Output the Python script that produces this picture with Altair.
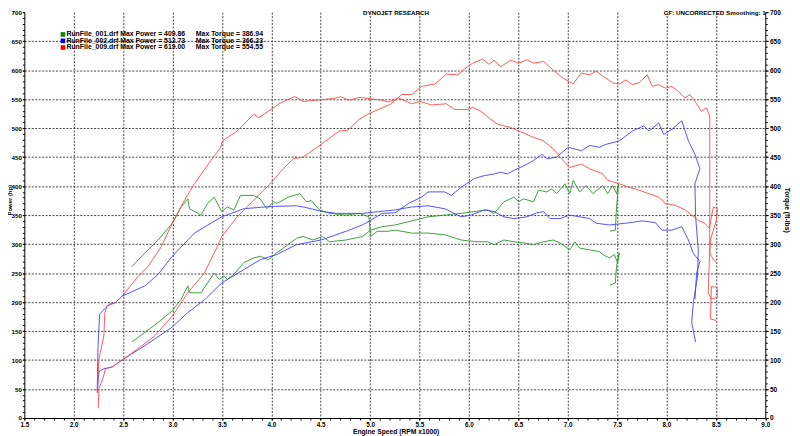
import altair as alt
import pandas as pd

# ---------------- data (RPM x1000, hp / ft-lbs) ----------------
runs = ["001", "002", "009"]
run_colors = ["#2a962a", "#4040ff", "#ff4848"]
legend_colors = ["#128012", "#0000ff", "#ff0000"]
legend_files = ["RunFile_001.drf", "RunFile_002.drf", "RunFile_009.drf"]
max_power = [409.86, 512.73, 619.00]
max_torque = [386.94, 366.23, 554.55]

g_tq_rpm = [2.588, 2.722, 2.855, 2.998, 3.088, 3.155, 3.172, 3.288, 3.355, 3.422, 3.498, 3.555, 3.622, 3.688,
            3.822, 3.888, 3.955, 4.022, 4.055, 4.172, 4.288, 4.355, 4.405, 4.488, 4.588, 4.755, 4.888, 4.988,
            5.005, 5.072, 5.172, 5.255, 5.422, 5.588, 5.755, 5.922, 6.088, 6.188, 6.255, 6.355, 6.455, 6.555,
            6.655, 6.755, 6.855, 6.922, 7.022, 7.072, 7.122, 7.222, 7.322, 7.355, 7.422, 7.472, 7.505, 7.522,
            7.495, 7.482, 7.428]
g_tq_val = [261, 285, 307, 336, 364, 378, 361, 350, 370, 381, 356, 364, 359, 384,
            384, 378, 361, 373, 370, 381, 387, 373, 375, 359, 353, 350, 353, 347,
            313, 322, 322, 324, 319, 319, 316, 307, 304, 304, 299, 307, 304, 302,
            299, 304, 307, 302, 290, 304, 293, 290, 287, 282, 276, 282, 268, 285,
            262, 233, 229]

g_hp_rpm = [2.588, 2.722, 2.855, 2.998, 3.088, 3.155, 3.172, 3.288, 3.355, 3.422, 3.472, 3.522, 3.555, 3.622,
            3.722, 3.822, 3.888, 3.972, 4.055, 4.122, 4.255, 4.322, 4.422, 4.522, 4.588, 4.755, 4.922, 5.005,
            5.122, 5.255, 5.588, 5.755, 5.922, 6.188, 6.255, 6.355, 6.455, 6.505, 6.555, 6.655, 6.705, 6.788,
            6.838, 6.888, 6.972, 7.022, 7.055, 7.122, 7.188, 7.255, 7.355, 7.405, 7.455, 7.495, 7.515, 7.495,
            7.482, 7.428]
g_hp_val = [131, 148, 165, 185, 205, 228, 216, 216, 233, 250, 239, 245, 239, 248,
            268, 276, 279, 273, 285, 293, 310, 313, 307, 313, 304, 307, 313, 324,
            330, 333, 347, 350, 353, 359, 353, 373, 381, 373, 378, 373, 393, 390,
            395, 387, 404, 387, 409.86, 390, 401, 387, 401, 387, 401, 387, 404, 364,
            324, 322]

b_tq_rpm = [2.238, 2.245, 2.262, 2.355, 2.422, 2.488, 2.722, 2.855, 2.998, 3.222, 3.498, 3.722, 4.005, 4.255,
            4.322, 4.522, 4.655, 4.922, 5.255, 5.422, 5.588, 5.755, 5.922, 6.022, 6.155, 6.255, 6.355, 6.455,
            6.588, 6.688, 6.755, 6.822, 6.922, 7.022, 7.122, 7.222, 7.288, 7.422, 7.588, 7.755, 7.888, 7.955,
            8.055, 8.155, 8.222, 8.272, 8.338, 8.305, 8.288]
b_tq_val = [46, 120, 179, 196, 199, 210, 228, 248, 279, 319, 347, 361, 365, 366,
            364, 356, 353, 353, 359, 364, 366, 361, 347, 350, 359, 356, 347, 344,
            347, 354, 356, 344, 344, 350, 347, 344, 336, 333, 336, 340, 337, 324,
            324, 330, 307, 284, 270, 250, 205]

b_hp_rpm = [2.238, 2.255, 2.305, 2.388, 2.488, 2.722, 2.998, 3.155, 3.332, 3.498, 3.722, 3.888, 4.055, 4.255,
            4.505, 4.755, 4.922, 5.005, 5.122, 5.255, 5.388, 5.522, 5.588, 5.755, 5.822, 5.922, 6.055, 6.155,
            6.255, 6.322, 6.388, 6.455, 6.555, 6.655, 6.738, 6.788, 6.888, 7.005, 7.138, 7.222, 7.322, 7.388,
            7.522, 7.655, 7.772, 7.822, 7.922, 7.972, 8.055, 8.155, 8.222, 8.288, 8.338, 8.288, 8.295, 8.322,
            8.315, 8.272, 8.255, 8.295]
b_hp_val = [43, 80, 85, 88, 100, 125, 157, 182, 205, 233, 256, 273, 282, 299,
            307, 322, 333, 341, 353, 354, 370, 381, 390, 390, 384, 398, 413, 418,
            421, 424, 421, 427, 435, 444, 455, 447, 450, 467, 461, 470, 467, 472,
            478, 495, 504, 495, 509, 489, 498, 512.73, 478, 455, 430, 404, 347, 290,
            245, 199, 165, 131]

r_tq_rpm = [2.238, 2.255, 2.305, 2.315, 2.338, 2.422, 2.488, 2.655, 2.755, 2.888, 2.998, 3.122, 3.222, 3.388,
            3.488, 3.505, 3.655, 3.822, 3.872, 4.022, 4.088, 4.238, 4.322, 4.505, 4.622, 4.705, 4.788, 4.888,
            4.988, 5.122, 5.188, 5.288, 5.422, 5.505, 5.622, 5.772, 5.855, 5.988, 6.038, 6.122, 6.222, 6.288,
            6.422, 6.522, 6.655, 6.755, 6.855, 6.922, 7.022, 7.138, 7.222, 7.355, 7.405, 7.522, 7.622, 7.722,
            7.822, 7.922, 7.988, 8.088, 8.188, 8.255, 8.322, 8.388, 8.435, 8.455, 8.475, 8.515, 8.505, 8.445,
            8.438, 8.475, 8.505]
r_tq_val = [46, 102, 142, 182, 193, 199, 210, 245, 262, 296, 336, 376, 404, 444,
            467, 478, 495, 524, 518, 535, 543, 554.55, 546, 549, 551, 554, 548, 553,
            551, 548, 545, 552, 542, 546, 540, 542, 532, 532, 536, 529, 515, 507,
            501, 494, 484, 478, 464, 450, 432, 438, 430, 421, 410, 404, 398, 393,
            387, 381, 370, 367, 359, 350, 341, 336, 327, 347, 364, 361, 341, 307,
            285, 273, 268]

r_hp_rpm = [2.248, 2.255, 2.295, 2.322, 2.388, 2.488, 2.655, 2.822, 2.998, 3.155, 3.322, 3.455, 3.498, 3.655,
            3.822, 4.005, 4.088, 4.222, 4.322, 4.505, 4.688, 4.772, 4.888, 4.988, 5.122, 5.205, 5.322, 5.422,
            5.522, 5.655, 5.772, 5.888, 5.955, 6.038, 6.138, 6.205, 6.255, 6.322, 6.422, 6.505, 6.588, 6.655,
            6.755, 6.855, 6.955, 7.055, 7.138, 7.222, 7.288, 7.388, 7.455, 7.522, 7.588, 7.655, 7.722, 7.805,
            7.855, 7.922, 7.988, 8.055, 8.122, 8.188, 8.238, 8.288, 8.355, 8.405, 8.438, 8.438, 8.438, 8.422,
            8.455, 8.515, 8.515, 8.455, 8.445, 8.505]
r_hp_val = [17, 51, 68, 85, 88, 100, 120, 142, 176, 216, 250, 296, 313, 347,
            376, 407, 424, 447, 450, 472, 495, 496, 515, 525, 535, 541, 558, 558,
            572, 576, 593, 592, 602, 612, 619.0, 610, 617, 606, 617, 612, 618, 612,
            615, 600, 586, 576, 595, 592, 598, 586, 578, 576, 583, 575, 578, 592,
            572, 575, 569, 572, 563, 552, 558, 546, 529, 535, 521, 404, 290, 216,
            205, 208, 225, 227, 171, 168]

curves = [
    ("001", "Torque", g_tq_rpm, g_tq_val),
    ("001", "Power", g_hp_rpm, g_hp_val),
    ("002", "Torque", b_tq_rpm, b_tq_val),
    ("002", "Power", b_hp_rpm, b_hp_val),
    ("009", "Torque", r_tq_rpm, r_tq_val),
    ("009", "Power", r_hp_rpm, r_hp_val),
]
rows = []
for run, kind, rr, vv in curves:
    for i, (r, v) in enumerate(zip(rr, vv)):
        rows.append({"run": run, "curve": f"{run} {kind}", "idx": i, "rpm": r, "value": v})
df = pd.DataFrame(rows)

major_x = [round(1.5 + 0.5 * i, 1) for i in range(16)]
grid_x = [round(2.0 + 0.5 * i, 1) for i in range(14)]
minor_x = [round(1.5 + 0.1 * i, 1) for i in range(76)]
major_y = list(range(0, 701, 50))
grid_y = list(range(50, 651, 50))
minor_y = list(range(0, 701, 10))

FONT = "Liberation Sans"
W, H = 748.5, 410

xscale = alt.Scale(domain=[1.5, 9.0], nice=False, zero=False)
yscale = alt.Scale(domain=[0, 700], nice=False)

lab = dict(labelFont=FONT, labelFontWeight="bold", labelColor="black",
           labelFlush=False, labelOverlap=False, domainColor="black", tickColor="black", title=None,
           grid=False)

lines = alt.Chart(df).mark_line(strokeWidth=1, opacity=0.9).encode(
    x=alt.X("rpm:Q", scale=xscale, axis=alt.Axis(values=major_x, format=".1f", orient="bottom",
            tickSize=2, labelPadding=1.3, labelFontSize=6.4, **lab)),
    y=alt.Y("value:Q", scale=yscale, axis=alt.Axis(values=major_y, format="d", orient="left",
            tickSize=2, labelPadding=1.0, labelFontSize=6.3, **lab)),
    color=alt.Color("run:N", scale=alt.Scale(domain=runs, range=run_colors), legend=None),
    detail="curve:N",
    order="idx:Q",
)

anchor = pd.DataFrame({"rpm": [1.5], "value": [0]})
gridlayer = alt.Chart(anchor).mark_point(opacity=0).encode(
    x=alt.X("rpm:Q", scale=xscale, axis=alt.Axis(values=grid_x, orient="bottom", labels=False, ticks=False,
            domain=False, grid=True, gridDash=[2, 1.5], gridColor="#444", gridWidth=1, title=None)),
    y=alt.Y("value:Q", scale=yscale, axis=alt.Axis(values=grid_y, orient="left", labels=False, ticks=False,
            domain=False, grid=True, gridDash=[2, 1.5], gridColor="#444", gridWidth=1, title=None)),
)
right_axis = alt.Chart(anchor).mark_point(opacity=0).encode(
    x=alt.X("rpm:Q", scale=xscale, axis=None),
    y=alt.Y("value:Q", scale=yscale, axis=alt.Axis(values=major_y, format="d", orient="right",
            tickSize=3, labelPadding=1.2, labelFontSize=6.6, **lab)),
)
minor_left = alt.Chart(anchor).mark_point(opacity=0).encode(
    x=alt.X("rpm:Q", scale=xscale, axis=alt.Axis(values=minor_x, orient="bottom", labels=False,
            grid=False, tickSize=2, domain=False, tickColor="black", title=None)),
    y=alt.Y("value:Q", scale=yscale, axis=alt.Axis(values=minor_y, orient="left", labels=False,
            grid=False, tickSize=2, domain=False, tickColor="black", title=None)),
)
minor_right = alt.Chart(anchor).mark_point(opacity=0).encode(
    x=alt.X("rpm:Q", scale=xscale, axis=None),
    y=alt.Y("value:Q", scale=yscale, axis=alt.Axis(values=minor_y, orient="right", labels=False,
            grid=False, tickSize=2, domain=False, tickColor="black", title=None)),
)

def txt(s, x, y, size=7, align="center", angle=0):
    return alt.Chart(pd.DataFrame({"t": [s]})).mark_text(
        font=FONT, fontSize=size, fontWeight="bold", color="black", align=align,
        baseline="middle", angle=angle).encode(x=alt.value(x), y=alt.value(y), text="t:N")

texts = [
    txt("DYNOJET RESEARCH", 375.5, 1.2, size=6.3),
    txt("CF: UNCORRECTED  Smoothing: 1", 749.0, 1.2, size=6.3, align="right"),
    txt("Engine Speed (RPM x1000)", 375.5, 424.5, size=6.8),
    txt("Power (hp)", -14.3, 190, size=6.0, angle=270),
    txt("Torque (ft-lbs)", 770.0, 200, size=6.8, angle=90),
]

row_y = [22.5, 29, 35.7]
legend_layers = []
for i in range(3):
    legend_layers.append(
        alt.Chart(pd.DataFrame({"run": [runs[i]]})).mark_square(size=22, opacity=1, color=legend_colors[i])
        .encode(x=alt.value(39), y=alt.value(row_y[i]))
    )
    legend_layers.append(txt(f"{legend_files[i]} Max Power = {max_power[i]:.2f}", 42.5, row_y[i], align="left"))
    legend_layers.append(txt(f"Max Torque = {max_torque[i]:.2f}", 173.2, row_y[i], align="left"))

chart = alt.layer(gridlayer, lines, right_axis, minor_left, minor_right, *texts, *legend_layers).resolve_axis(
    x="independent", y="independent"
).properties(
    width=W, height=H,
    autosize=alt.AutoSizeParams(type="none"),
    padding={"left": 16.5, "top": 2, "right": 27, "bottom": 20},
    background="white",
).configure_view(strokeWidth=0)

chart.save("out.html", embed_options={"renderer": "svg", "actions": False})
